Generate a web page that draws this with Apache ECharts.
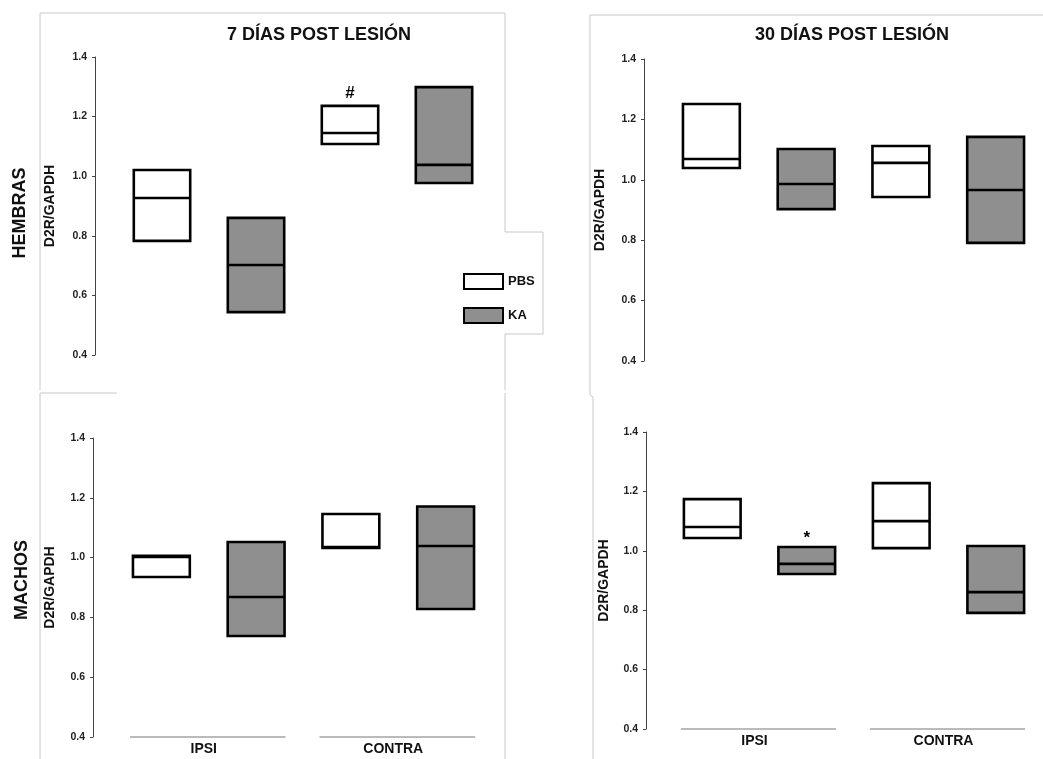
<!DOCTYPE html>
<html>
<head>
<meta charset="utf-8">
<script src="https://cdn.jsdelivr.net/npm/echarts@6/dist/echarts.min.js"></script>
<style>
html, body { margin: 0; padding: 0; background: #fff; }
#main { width: 1043px; height: 759px; }
</style>
</head>
<body>
<div id="main"></div>
<script>
// slots inside every panel, and the two side groups under them
const slots = ['IPSI PBS', 'IPSI KA', 'CONTRA PBS', 'CONTRA KA']
const groups = ['IPSI', 'CONTRA']
const groupSpans = [[0, 1], [2, 3]]

// boxes: [slot, bottom, median, top]
const hembras7PBS = [[0, 0.783, 0.927, 1.021], [2, 1.108, 1.145, 1.236]]
const hembras7KA = [[1, 0.544, 0.702, 0.860], [3, 0.977, 1.038, 1.299]]
const hembras30PBS = [[0, 1.039, 1.069, 1.251], [2, 0.943, 1.056, 1.112]]
const hembras30KA = [[1, 0.903, 0.986, 1.102], [3, 0.791, 0.966, 1.142]]
const machos7PBS = [[0, 0.935, 1.002, 1.006], [2, 1.032, 1.035, 1.146]]
const machos7KA = [[1, 0.738, 0.868, 1.052], [3, 0.828, 1.039, 1.171]]
const machos30PBS = [[0, 1.043, 1.080, 1.174], [2, 1.009, 1.100, 1.228]]
const machos30KA = [[1, 0.922, 0.956, 1.013], [3, 0.791, 0.861, 1.016]]

// significance marks: [slot, value of box top, sign]
const hembras7Sign = [[2, 1.236, '#']]
const machos30Sign = [[1, 1.013, '*']]

const panels = [
  { grid: { left: 115, top: 57, width: 376, height: 298 }, offset: 20, gap: 38, pbs: hembras7PBS, ka: hembras7KA, signs: hembras7Sign, bottom: false },
  { grid: { left: 664, top: 59, width: 381, height: 302 }, offset: 20, gap: 37, pbs: hembras30PBS, ka: hembras30KA, signs: [], bottom: false },
  { grid: { left: 114, top: 438, width: 379, height: 299 }, offset: 21, gap: 36, pbs: machos7PBS, ka: machos7KA, signs: [], bottom: true },
  { grid: { left: 665, top: 432, width: 379, height: 297 }, offset: 19, gap: 35, pbs: machos30PBS, ka: machos30KA, signs: machos30Sign, bottom: true }
]

const BOX = 0.6
const FONT = 'Liberation Sans'

function boxItem(fill) {
  return function (params, api) {
    const x = api.value(0)
    const lo = api.coord([x, api.value(1)])
    const md = api.coord([x, api.value(2)])
    const hi = api.coord([x, api.value(3)])
    const w = api.size([1, 0])[0] * BOX
    return {
      type: 'group',
      children: [
        { type: 'rect', shape: { x: lo[0] - w / 2, y: hi[1], width: w, height: lo[1] - hi[1] },
          style: { fill: fill, stroke: '#000', lineWidth: 2.6 } },
        { type: 'line', shape: { x1: lo[0] - w / 2, y1: md[1], x2: lo[0] + w / 2, y2: md[1] },
          style: { stroke: '#000', lineWidth: 2.6 } }
      ]
    }
  }
}

const grid = [], xAxis = [], yAxis = [], series = []

panels.forEach((p, i) => {
  grid.push(p.grid)
  xAxis.push({
    gridIndex: i, type: 'category', data: slots,
    axisLine: { show: false }, axisTick: { show: false }, axisLabel: { show: false }, splitLine: { show: false }
  })
  const xi = xAxis.length - 1
  if (p.bottom) {
    xAxis.push({
      gridIndex: i, type: 'category', data: groups, position: 'bottom',
      axisLine: { show: false }, axisTick: { show: false },
      axisLabel: { fontFamily: FONT, fontWeight: 'bold', fontSize: 14, color: '#111', margin: 5, padding: [0, 10, 0, 0] }
    })
  }
  yAxis.push({
    gridIndex: i, type: 'value', min: 0.4, max: 1.4, interval: 0.2, offset: p.offset,
    axisLine: { show: true, lineStyle: { color: '#444', width: 1 } },
    axisTick: { show: true, length: 3, lineStyle: { color: '#444' } },
    axisLabel: { fontFamily: FONT, fontWeight: 'bold', fontSize: 10.5, color: '#222', margin: 8,
      formatter: v => v.toFixed(1) },
    splitLine: { show: false },
    name: 'D2R/GAPDH', nameLocation: 'middle', nameRotate: 90, nameGap: p.gap,
    nameTextStyle: { fontFamily: FONT, fontWeight: 'bold', fontSize: 14, color: '#111' }
  })
  series.push({
    type: 'custom', name: 'PBS', xAxisIndex: xi, yAxisIndex: i,
    itemStyle: { color: '#fff', borderColor: '#000', borderWidth: 2 },
    encode: { x: 0, y: [1, 2, 3] }, data: p.pbs, renderItem: boxItem('#fff')
  })
  series.push({
    type: 'custom', name: 'KA', xAxisIndex: xi, yAxisIndex: i,
    itemStyle: { color: '#8f8f8f', borderColor: '#000', borderWidth: 2 },
    encode: { x: 0, y: [1, 2, 3] }, data: p.ka, renderItem: boxItem('#8f8f8f')
  })
  if (p.signs.length) {
    series.push({
      type: 'custom', xAxisIndex: xi, yAxisIndex: i, encode: { x: 0, y: 1 },
      data: p.signs.map(s => [s[0], s[1]]),
      renderItem: (params, api) => {
        const pt = api.coord([api.value(0), api.value(1)])
        const s = p.signs[params.dataIndex][2]
        return { type: 'text', x: pt[0], y: pt[1] - (s === '#' ? 13 : 9),
          style: { text: s, fill: '#000', font: 'bold 17px "Liberation Sans"', align: 'center', verticalAlign: 'middle' } }
      }
    })
  }
  if (p.bottom) {
    series.push({
      type: 'custom', xAxisIndex: xi, yAxisIndex: i, encode: { x: [0, 1] }, silent: true,
      data: groupSpans,
      renderItem: (params, api) => {
        const a = api.coord([api.value(0), 0.4])
        const b = api.coord([api.value(1), 0.4])
        const w = api.size([1, 0])[0] * BOX
        return { type: 'line', shape: { x1: a[0] - w / 2 - 3, y1: a[1], x2: b[0] + w / 2 + 1, y2: a[1] },
          style: { stroke: '#777', lineWidth: 1 } }
      }
    })
  }
})

const frame = { stroke: '#c8c8c8', lineWidth: 1, fill: null }
const titleStyle = { fontFamily: FONT, fontWeight: 'bold', fontSize: 18, color: '#111' }

const chart = echarts.init(document.getElementById('main'), null, { renderer: 'canvas' })
chart.setOption({
  backgroundColor: '#fff',
  animation: false,
  title: [
    { text: '7 DÍAS POST LESIÓN', left: 314, top: 21, textAlign: 'center', textStyle: titleStyle },
    { text: '30 DÍAS POST LESIÓN', left: 847, top: 21, textAlign: 'center', textStyle: titleStyle }
  ],
  legend: {
    orient: 'vertical', left: 463, top: 273, padding: 0, itemWidth: 39, itemHeight: 15, itemGap: 17,
    icon: 'rect',
    textStyle: { fontFamily: FONT, fontWeight: 'bold', fontSize: 13, color: '#111' },
    data: [
      { name: 'PBS', itemStyle: { color: '#fff', borderColor: '#000', borderWidth: 2 } },
      { name: 'KA', itemStyle: { color: '#8f8f8f', borderColor: '#000', borderWidth: 2 } }
    ]
  },
  grid, xAxis, yAxis, series,
  graphic: [
    { type: 'polyline', shape: { points: [[40, 390], [40, 13], [505, 13], [505, 232], [543, 232], [543, 334], [505, 334], [505, 390]] }, style: frame, silent: true },
    { type: 'polyline', shape: { points: [[40, 759], [40, 393], [117, 393]] }, style: frame, silent: true },
    { type: 'line', shape: { x1: 505, y1: 393, x2: 505, y2: 759 }, style: frame, silent: true },
    { type: 'polyline', shape: { points: [[590, 395], [590, 15], [1043, 15]] }, style: frame, silent: true },
    { type: 'polyline', shape: { points: [[590, 395], [593, 397], [593, 759]] }, style: frame, silent: true },
    { type: 'text', x: 20, y: 213, rotation: Math.PI / 2,
      style: { text: 'HEMBRAS', font: 'bold 18px "Liberation Sans"', fill: '#111', align: 'center', verticalAlign: 'middle' } },
    { type: 'text', x: 22, y: 580, rotation: Math.PI / 2,
      style: { text: 'MACHOS', font: 'bold 18px "Liberation Sans"', fill: '#111', align: 'center', verticalAlign: 'middle' } }
  ]
})
</script>
</body>
</html>
